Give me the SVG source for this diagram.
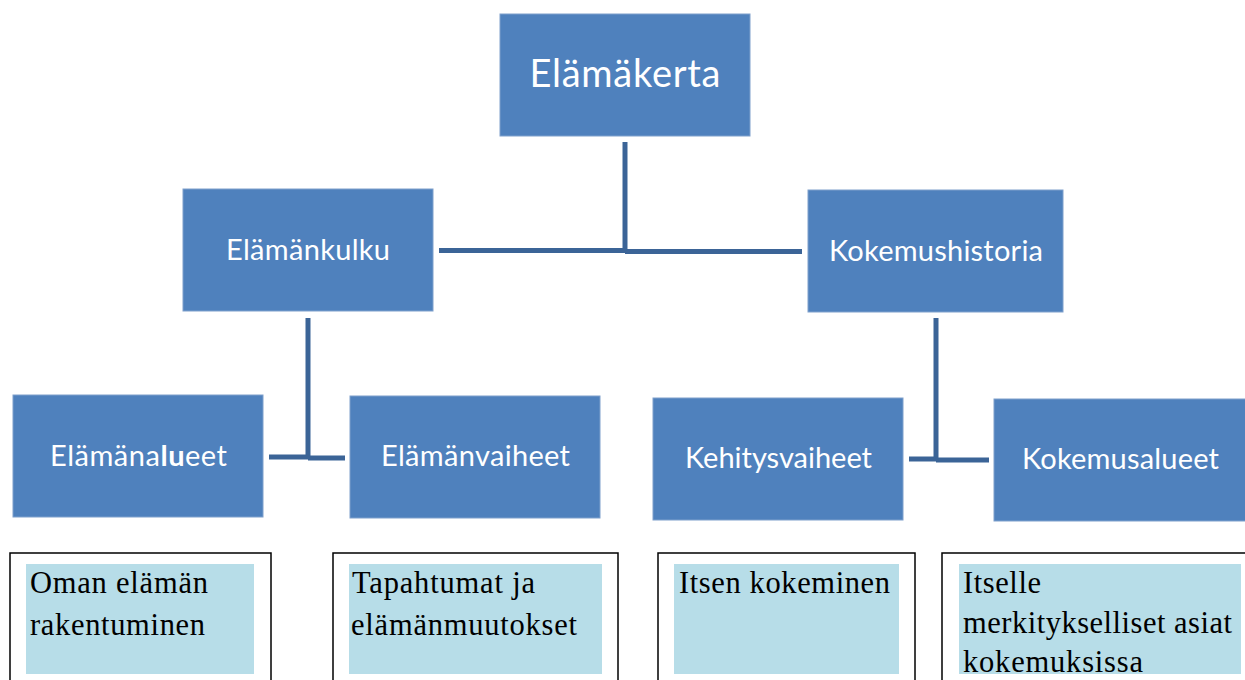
<svg xmlns="http://www.w3.org/2000/svg" width="1245" height="680" viewBox="0 0 1245 680">
<style>
.box{fill:#4f81bd;stroke:#7fa0cc;stroke-width:1}
.lbl{font-family:Lato,"Liberation Sans",sans-serif;fill:#ffffff;text-anchor:middle}
.conn{stroke:#3b6497;stroke-width:5;fill:none}
.outer{fill:#ffffff;stroke:#000000;stroke-width:1.5}
.inner{fill:#b7dde8}
.note{font-family:"Liberation Serif",serif;font-size:30.5px;fill:#000000}
</style>
<rect width="1245" height="680" fill="#ffffff"/>
<g id="connectors">
<path class="conn" d="M625 142 V252"/>
<path class="conn" d="M439 250.5 H625"/>
<path class="conn" d="M625 251.5 H802"/>
<path class="conn" d="M308 318 V458"/>
<path class="conn" d="M269 457 H308"/>
<path class="conn" d="M308 458 H345"/>
<path class="conn" d="M936 318 V459"/>
<path class="conn" d="M909 459 H936"/>
<path class="conn" d="M936 460 H989"/>
</g>
<g id="n-elamakerta">
<rect class="box" x="500" y="14" width="250" height="122"/>
<text class="lbl" x="625" y="87" font-size="38" textLength="191">Elämäkerta</text>
</g>
<g id="n-elamankulku">
<rect class="box" x="183" y="189" width="250" height="122"/>
<text class="lbl" x="308" y="260" font-size="29" textLength="164">Elämänkulku</text>
</g>
<g id="n-kokemushistoria">
<rect class="box" x="808" y="190" width="255" height="122"/>
<text class="lbl" x="936" y="261" font-size="29" textLength="214">Kokemushistoria</text>
</g>
<g id="n-elamanalueet">
<rect class="box" x="13" y="395" width="250" height="122"/>
<text class="lbl" x="138.5" y="466" font-size="29" textLength="177">Elämäna<tspan font-weight="bold">lu</tspan>eet</text>
</g>
<g id="n-elamanvaiheet">
<rect class="box" x="350" y="396" width="250" height="122"/>
<text class="lbl" x="475.5" y="466" font-size="29" textLength="189">Elämänvaiheet</text>
</g>
<g id="n-kehitysvaiheet">
<rect class="box" x="653" y="398" width="250" height="122"/>
<text class="lbl" x="778.5" y="468" font-size="29" textLength="187">Kehitysvaiheet</text>
</g>
<g id="n-kokemusalueet">
<rect class="box" x="994" y="399" width="252" height="122"/>
<text class="lbl" x="1120.5" y="469" font-size="29" textLength="197">Kokemusalueet</text>
</g>
<g id="t-oman">
<rect class="outer" x="10" y="553" width="261" height="130"/>
<rect class="inner" x="26" y="564" width="228" height="110"/>
<text class="note" x="30" y="593" textLength="178">Oman elämän</text>
<text class="note" x="30" y="635" textLength="175">rakentuminen</text>
</g>
<g id="t-tapahtumat">
<rect class="outer" x="333" y="553" width="285" height="130"/>
<rect class="inner" x="349" y="564" width="253" height="110"/>
<text class="note" x="352" y="593" textLength="183">Tapahtumat ja</text>
<text class="note" x="351" y="635" textLength="226">elämänmuutokset</text>
</g>
<g id="t-itsen">
<rect class="outer" x="658" y="553" width="257" height="130"/>
<rect class="inner" x="674" y="564" width="225" height="110"/>
<text class="note" x="679" y="593" textLength="211">Itsen kokeminen</text>
</g>
<g id="t-itselle">
<rect class="outer" x="942" y="553" width="310" height="130"/>
<rect class="inner" x="959" y="564" width="282" height="110"/>
<text class="note" x="963" y="593" textLength="78">Itselle</text>
<text class="note" x="963" y="633" textLength="269">merkitykselliset asiat</text>
<text class="note" x="963" y="672" textLength="180">kokemuksissa</text>
</g>
</svg>
